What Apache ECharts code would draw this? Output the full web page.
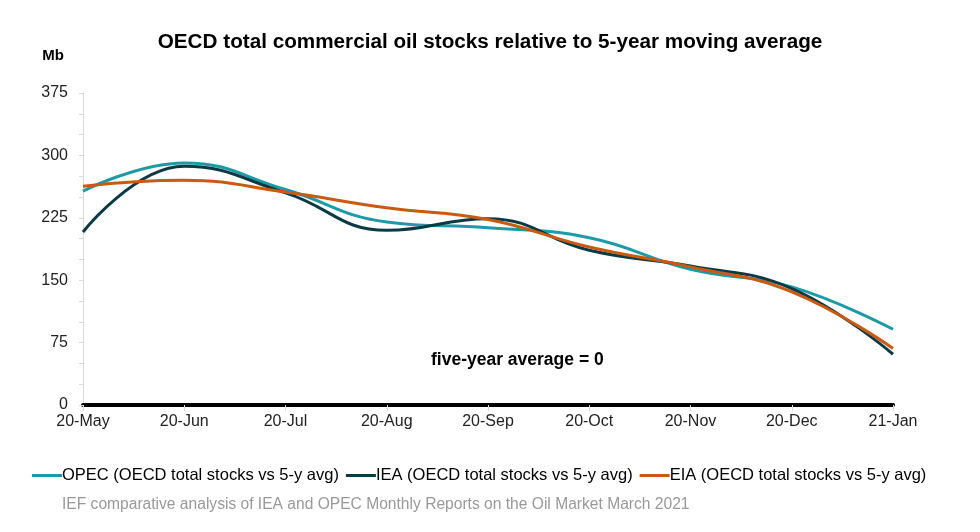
<!DOCTYPE html>
<html>
<head>
<meta charset="utf-8">
<script src="https://cdn.jsdelivr.net/npm/echarts@6/dist/echarts.min.js"></script>
<style>html,body{margin:0;padding:0;background:#fff;}#c{width:980px;height:532px;}</style>
</head>
<body>
<div id="c"></div>
<script>
var categories = ['20-May','20-Jun','20-Jul','20-Aug','20-Sep','20-Oct','20-Nov','20-Dec','21-Jan'];
var opec = [257, 291, 259, 220, 213, 201, 163, 142, 91];
var iea  = [208, 287, 255, 210, 224, 186, 167, 140, 61];
var eia  = [263, 270, 256, 237, 223, 190, 166, 136, 68];
var seriesNames = ['OPEC (OECD total stocks vs 5-y avg)','IEA (OECD total stocks vs 5-y avg)','EIA (OECD total stocks vs 5-y avg)'];
var colors = ['#1e9aa6','#0c3a44','#c85a12'];

var chart = echarts.init(document.getElementById('c'));
var font = 'Liberation Sans, Arial, sans-serif';
function mk(name, data, color){
  return {name:name, type:'line', data:data, smooth:0.45, symbol:'none',
    lineStyle:{color:color, width:3}, itemStyle:{color:color}, z:3};
}
chart.setOption({
  animation:false,
  textStyle:{fontFamily:font},
  title:{text:'OECD total commercial oil stocks relative to 5-year moving average', left:'center', top:27,
    textStyle:{fontFamily:font, fontSize:20.7, fontWeight:'bold', color:'#000'}},
  grid:{left:83, right:87, top:93, bottom:127, containLabel:false},
  legend:{left:27, top:462, itemGap:7, itemWidth:30, itemHeight:3, icon:'rect',
    textStyle:{fontFamily:font, fontSize:16.5, color:'#000', padding:[0,0,0,-5]},
    data:seriesNames},
  xAxis:{type:'category', data:categories, boundaryGap:false,
    axisLine:{show:true, lineStyle:{color:'#000', width:4}},
    axisTick:{show:true, length:6, lineStyle:{color:'#d9d9d9', width:1}},
    axisLabel:{fontFamily:font, fontSize:16, color:'#222', margin:9},
    splitLine:{show:false}},
  yAxis:{type:'value', min:0, max:375, interval:75,
    name:'Mb', nameLocation:'end', nameGap:0,
    nameTextStyle:{fontFamily:font, fontSize:15, fontWeight:'bold', color:'#000', align:'center', padding:[0,0,30,-60]},
    axisLine:{show:true, lineStyle:{color:'#d9d9d9', width:1}},
    axisTick:{show:true, length:4, lineStyle:{color:'#d9d9d9'}},
    minorTick:{show:true, splitNumber:3, length:4, lineStyle:{color:'#d9d9d9'}},
    axisLabel:{fontFamily:font, fontSize:16, color:'#222', margin:15},
    splitLine:{show:false}},
  graphic:[
    {type:'text', left:431, top:351, style:{text:'five-year average = 0', fontFamily:font, fontSize:17.5, fontWeight:'bold', fill:'#000'}},
    {type:'text', left:62, top:497, style:{text:'IEF comparative analysis of IEA and OPEC Monthly Reports on the Oil Market March 2021', fontFamily:font, fontSize:15.6, fill:'#999'}}
  ],
  series:[mk(seriesNames[0], opec, colors[0]), mk(seriesNames[1], iea, colors[1]), mk(seriesNames[2], eia, colors[2])]
});
</script>
</body>
</html>
